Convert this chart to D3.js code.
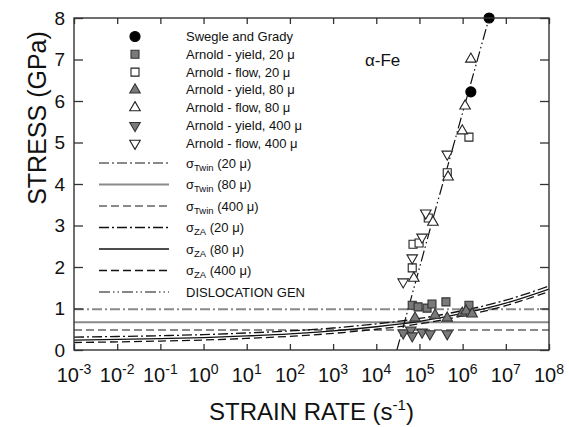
<!DOCTYPE html>
<html>
<head>
<meta charset="utf-8">
<script src="https://cdn.jsdelivr.net/npm/d3@7"></script>
<style>
    body { margin: 0; background: #fff; }
    text { font-family: "Liberation Sans", Arial, sans-serif; fill: #111; }
</style>
</head>
<body>
<div id="chart"></div>
<script>

// ---- data ----
const xExponents = [-3, -2, -1, 0, 1, 2, 3, 4, 5, 6, 7, 8];
const yTicks = [0, 1, 2, 3, 4, 5, 6, 7, 8];

// markers: [strain rate (1/s), stress (GPa)]
const swegleGrady = [[4.1e6, 8.0], [1.55e6, 6.22]];
const yield20 = [[6.8e4, 1.08], [9.3e4, 1.04], [1.5e5, 1.01], [1.95e5, 1.11], [4.1e5, 1.16], [1.4e6, 1.08]];
const flow20 = [[1.4e6, 5.13], [4.4e5, 4.27], [1.6e5, 3.18], [7.1e4, 2.55], [9.8e4, 2.58], [6.8e4, 1.98]];
const yield80 = [[7.9e4, 0.77], [2.3e5, 0.84], [4.4e5, 0.77], [9.8e5, 0.89], [1.2e6, 0.94], [1.66e6, 0.87]];
const flow80 = [[1.55e6, 7.01], [1.14e6, 5.88], [9.8e5, 5.28], [4.6e5, 4.17], [2.05e5, 3.08], [7.4e4, 1.73]];
const yield400 = [[4.2e4, 0.41], [6.3e4, 0.48], [6.8e4, 0.34], [1.15e5, 0.43], [1.75e5, 0.39], [4.4e5, 0.39]];
const flow400 = [[4.4e5, 4.72], [1.4e5, 3.30], [1.15e5, 2.72], [6.8e4, 2.22], [4.2e4, 1.64]];

// twinning stress levels (GPa)
const twin20 = 0.98, twin80 = 0.67, twin400 = 0.48;

// ZA curves sampled per decade
const curveRates = [1e-3, 1e-2, 1e-1, 1e0, 1e1, 1e2, 1e3, 1e4, 1e5, 1e6, 1e7, 1e8];
const za20 = [0.31, 0.325, 0.345, 0.37, 0.41, 0.46, 0.53, 0.63, 0.76, 0.95, 1.20, 1.54];
const za80 = [0.24, 0.255, 0.275, 0.30, 0.34, 0.39, 0.46, 0.56, 0.69, 0.88, 1.13, 1.47];
const za400 = [0.18, 0.195, 0.215, 0.24, 0.28, 0.33, 0.40, 0.50, 0.63, 0.82, 1.07, 1.41];

// dislocation generation line
const dislocRates = [3.0e4, 2.1e5, 4.1e6];
const dislocStress = [0, 3.2, 8];

// ---- layout ----
const W = 569, H = 427;
const margin = {top: 18, right: 20, bottom: 77, left: 74};
const width = W - margin.left - margin.right;
const height = H - margin.top - margin.bottom;

const svg = d3.select("#chart").append("svg")
    .attr("width", W)
    .attr("height", H);

const g = svg.append("g")
    .attr("transform", `translate(${margin.left},${margin.top})`);

const x = d3.scaleLog().domain([1e-3, 1e8]).range([0, width]);
const y = d3.scaleLinear().domain([0, 8]).range([height, 0]);

svg.append("defs").append("clipPath").attr("id", "clip")
    .append("rect").attr("width", width).attr("height", height);

const gray = "#8a8a8a";
const styles = {
    twin20: {color: gray, width: 2, dash: "10,3,2,3"},
    twin80: {color: gray, width: 2, dash: null},
    twin400: {color: gray, width: 2, dash: "8,4"},
    za20: {color: "#111", width: 1.3, dash: "10,3,2,3"},
    za80: {color: "#111", width: 1.3, dash: null},
    za400: {color: "#111", width: 1.3, dash: "8,4"},
    disloc: {color: "#111", width: 1.2, dash: "11,3,1.5,3,1.5,3"}
};

const plot = g.append("g").attr("clip-path", "url(#clip)");

// horizontal twin lines
[[twin20, styles.twin20], [twin80, styles.twin80], [twin400, styles.twin400]].forEach(([v, s]) => {
    plot.append("line")
        .attr("x1", 0).attr("x2", width)
        .attr("y1", y(v)).attr("y2", y(v))
        .attr("stroke", s.color)
        .attr("stroke-width", s.width)
        .attr("stroke-dasharray", s.dash);
});

// ZA curves
const line = d3.line()
    .x(d => x(d[0]))
    .y(d => y(d[1]))
    .curve(d3.curveMonotoneX);

[[za20, styles.za20], [za80, styles.za80], [za400, styles.za400]].forEach(([vals, s]) => {
    plot.append("path")
        .datum(curveRates.map((r, i) => [r, vals[i]]))
        .attr("d", line)
        .attr("fill", "none")
        .attr("stroke", s.color)
        .attr("stroke-width", s.width)
        .attr("stroke-dasharray", s.dash);
});

// dislocation generation
plot.append("path")
    .datum(dislocRates.map((r, i) => [r, dislocStress[i]]))
    .attr("d", d3.line().x(d => x(d[0])).y(d => y(d[1])))
    .attr("fill", "none")
    .attr("stroke", styles.disloc.color)
    .attr("stroke-width", styles.disloc.width)
    .attr("stroke-dasharray", styles.disloc.dash);

// marker definitions
const markerTypes = {
    circle: {sym: d3.symbolCircle, size: 80, rot: 0},
    square: {sym: d3.symbolSquare, size: 64, rot: 0},
    up: {sym: d3.symbolTriangle, size: 48, rot: 0},
    down: {sym: d3.symbolTriangle, size: 48, rot: 180}
};

const series = [
    {label: "Swegle and Grady", data: swegleGrady, type: "circle", fill: "#000", stroke: "#000"},
    {label: "Arnold - yield, 20 \u03bc", data: yield20, type: "square", fill: "#7a7a7a", stroke: "#333"},
    {label: "Arnold - flow, 20 \u03bc", data: flow20, type: "square", fill: "#fff", stroke: "#222"},
    {label: "Arnold - yield, 80 \u03bc", data: yield80, type: "up", fill: "#7a7a7a", stroke: "#333"},
    {label: "Arnold - flow, 80 \u03bc", data: flow80, type: "up", fill: "#fff", stroke: "#222"},
    {label: "Arnold - yield, 400 \u03bc", data: yield400, type: "down", fill: "#7a7a7a", stroke: "#333"},
    {label: "Arnold - flow, 400 \u03bc", data: flow400, type: "down", fill: "#fff", stroke: "#222"}
];

function drawMarker(sel, s, px, py) {
    const m = markerTypes[s.type];
    sel.append("path")
        .attr("d", d3.symbol().type(m.sym).size(m.size)())
        .attr("transform", `translate(${px},${py}) rotate(${m.rot})`)
        .attr("fill", s.fill)
        .attr("stroke", s.stroke)
        .attr("stroke-width", 1.1);
}

series.forEach(s => {
    s.data.forEach(d => drawMarker(g, s, x(d[0]), y(d[1])));
});

// ---- frame and axes ----
g.append("rect")
    .attr("width", width).attr("height", height)
    .attr("fill", "none").attr("stroke", "#333").attr("stroke-width", 1.4);

const xTickVals = xExponents.map(e => Math.pow(10, e));
const yTickVals = yTicks;

function styleAxis(sel) {
    sel.select(".domain").remove();
    sel.selectAll(".tick line").attr("stroke", "#333").attr("stroke-width", 1.3);
    sel.selectAll(".tick text").remove();
}

g.append("g").attr("transform", `translate(0,${height})`)
    .call(d3.axisBottom(x).tickValues(xTickVals).tickSize(-6)).call(styleAxis);
g.append("g")
    .call(d3.axisTop(x).tickValues(xTickVals).tickSize(-6)).call(styleAxis);
g.append("g")
    .call(d3.axisLeft(y).tickValues(yTickVals).tickSize(-9)).call(styleAxis);
g.append("g").attr("transform", `translate(${width},0)`)
    .call(d3.axisRight(y).tickValues(yTickVals).tickSize(-9)).call(styleAxis);

// x tick labels 10^n
xExponents.forEach(e => {
    const t = g.append("text")
        .attr("x", x(Math.pow(10, e)))
        .attr("y", height + 32)
        .attr("text-anchor", "middle")
        .style("font-size", "20px");
    t.append("tspan").text("10");
    t.append("tspan").attr("dy", -8).style("font-size", "14px").text(e);
});

// y tick labels
yTicks.forEach(v => {
    g.append("text")
        .attr("x", -9)
        .attr("y", y(v))
        .attr("dy", "0.36em")
        .attr("text-anchor", "end")
        .style("font-size", "19px")
        .text(v);
});

// axis titles
const xt = svg.append("text")
    .attr("x", margin.left + width / 2)
    .attr("y", 420)
    .attr("text-anchor", "middle")
    .style("font-size", "24px");
xt.append("tspan").text("STRAIN RATE (s");
xt.append("tspan").attr("dy", -10).style("font-size", "15px").text("-1");
xt.append("tspan").attr("dy", 10).text(")");

svg.append("text")
    .attr("transform", "translate(46,118) rotate(-90)")
    .attr("text-anchor", "middle")
    .style("font-size", "25px")
    .text("STRESS (GPa)");

g.append("text")
    .attr("x", 291).attr("y", 48)
    .style("font-size", "17px")
    .text("\u03b1-Fe");

// ---- legend ----
const legend = g.append("g");
const legX = 135 - margin.left, textX = 186 - margin.left;

series.forEach((s, i) => {
    const ly = 36.5 + i * 17.8 - margin.top;
    drawMarker(legend, s, legX, ly);
    legend.append("text")
        .attr("x", textX).attr("y", ly)
        .attr("dy", "0.35em")
        .style("font-size", "13px")
        .text(s.label);
});

const lineEntries = [
    {s: styles.twin20, sub: "Twin", rest: " (20 \u03bc)"},
    {s: styles.twin80, sub: "Twin", rest: " (80 \u03bc)"},
    {s: styles.twin400, sub: "Twin", rest: " (400 \u03bc)"},
    {s: styles.za20, sub: "ZA", rest: " (20 \u03bc)"},
    {s: styles.za80, sub: "ZA", rest: " (80 \u03bc)"},
    {s: styles.za400, sub: "ZA", rest: " (400 \u03bc)"},
    {s: styles.disloc, sub: null, rest: "DISLOCATION GEN"}
];

lineEntries.forEach((e, i) => {
    const ly = 163 + i * 21.5 - margin.top;
    legend.append("line")
        .attr("x1", 99 - margin.left).attr("x2", 169 - margin.left)
        .attr("y1", ly).attr("y2", ly)
        .attr("stroke", e.s.color)
        .attr("stroke-width", e.s.width)
        .attr("stroke-dasharray", e.s.dash);
    const t = legend.append("text")
        .attr("x", textX).attr("y", ly)
        .attr("dy", "0.35em")
        .style("font-size", "13px");
    if (e.sub) {
        t.append("tspan").text("\u03c3");
        t.append("tspan").attr("dy", 3).style("font-size", "9.5px").text(e.sub);
        t.append("tspan").attr("dy", -3).text(e.rest);
    } else {
        t.text(e.rest);
    }
});

</script>
</body>
</html>
